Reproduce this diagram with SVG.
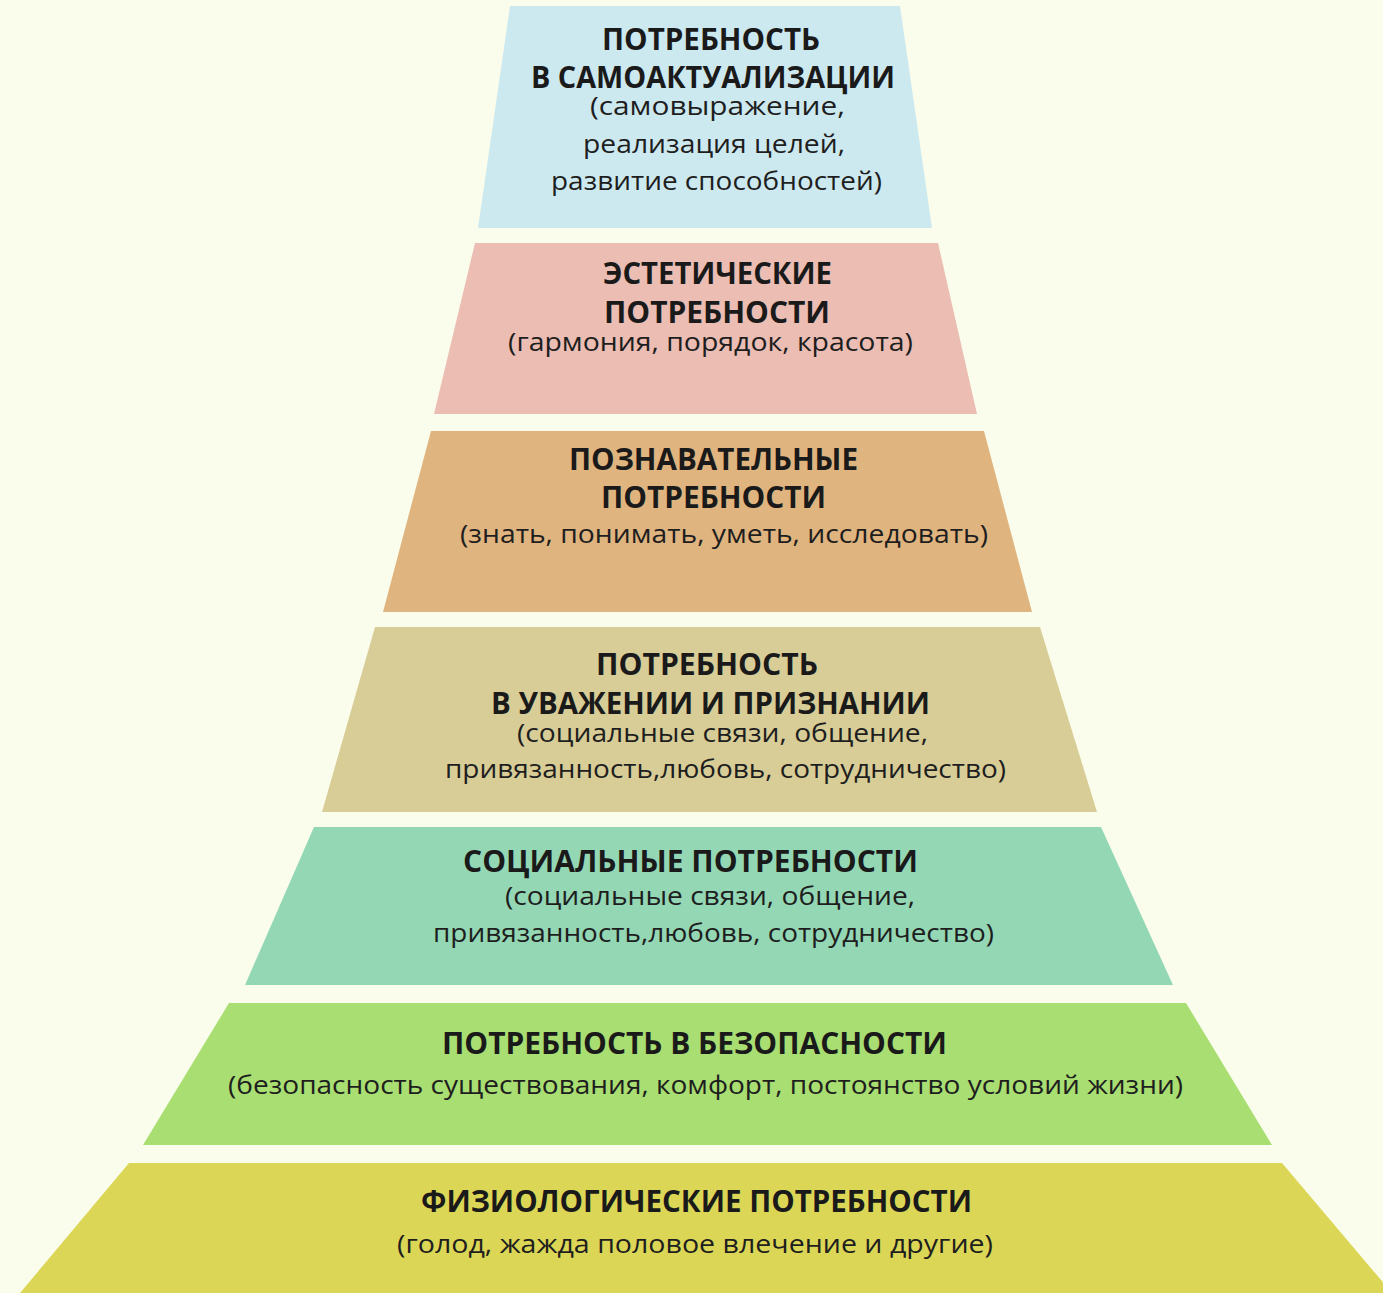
<svg xmlns="http://www.w3.org/2000/svg" width="1383" height="1293" viewBox="0 0 1383 1293">
<style>
.h{font-family:"Open Sans","Noto Sans","DejaVu Sans",sans-serif;font-weight:700;font-size:30px;fill:#1a1a1a}
.t{font-family:"Open Sans","Noto Sans","DejaVu Sans",sans-serif;font-weight:400;font-size:26px;fill:#1e1e1e}
</style>
<rect width="1383" height="1293" fill="#fafdec"/>
<g id="tier1">
<polygon points="510,6 900,6 932,228 478,228" fill="#cde9f0"/>
<text class="h" x="602" y="50" textLength="218" lengthAdjust="spacingAndGlyphs">ПОТРЕБНОСТЬ</text>
<text class="h" x="531" y="88" textLength="364" lengthAdjust="spacingAndGlyphs">В САМОАКТУАЛИЗАЦИИ</text>
<text class="t" x="590" y="115" textLength="255" lengthAdjust="spacingAndGlyphs">(самовыражение,</text>
<text class="t" x="583" y="153" textLength="262" lengthAdjust="spacingAndGlyphs">реализация целей,</text>
<text class="t" x="551" y="190" textLength="331" lengthAdjust="spacingAndGlyphs">развитие способностей)</text>
</g>
<g id="tier2">
<polygon points="475,243 938,243 977,414 434,414" fill="#ebbdb3"/>
<text class="h" x="603" y="284" textLength="229" lengthAdjust="spacingAndGlyphs">ЭСТЕТИЧЕСКИЕ</text>
<text class="h" x="604" y="323" textLength="226" lengthAdjust="spacingAndGlyphs">ПОТРЕБНОСТИ</text>
<text class="t" x="508" y="351" textLength="405" lengthAdjust="spacingAndGlyphs">(гармония, порядок, красота)</text>
</g>
<g id="tier3">
<polygon points="431,431 984,431 1032,612 383,612" fill="#e0b47f"/>
<text class="h" x="569" y="470" textLength="289" lengthAdjust="spacingAndGlyphs">ПОЗНАВАТЕЛЬНЫЕ</text>
<text class="h" x="601" y="508" textLength="225" lengthAdjust="spacingAndGlyphs">ПОТРЕБНОСТИ</text>
<text class="t" x="460" y="543" textLength="528" lengthAdjust="spacingAndGlyphs">(знать, понимать, уметь, исследовать)</text>
</g>
<g id="tier4">
<polygon points="375,627 1040,627 1097,812 322,812" fill="#d8cd97"/>
<text class="h" x="596" y="675" textLength="222" lengthAdjust="spacingAndGlyphs">ПОТРЕБНОСТЬ</text>
<text class="h" x="491" y="714" textLength="439" lengthAdjust="spacingAndGlyphs">В УВАЖЕНИИ И ПРИЗНАНИИ</text>
<text class="t" x="517" y="742" textLength="411" lengthAdjust="spacingAndGlyphs">(социальные связи, общение,</text>
<text class="t" x="445" y="778" textLength="561" lengthAdjust="spacingAndGlyphs">привязанность,любовь, сотрудничество)</text>
</g>
<g id="tier5">
<polygon points="314,827 1101,827 1173,985 245,985" fill="#94d7b5"/>
<text class="h" x="463" y="872" textLength="455" lengthAdjust="spacingAndGlyphs">СОЦИАЛЬНЫЕ ПОТРЕБНОСТИ</text>
<text class="t" x="505" y="905" textLength="410" lengthAdjust="spacingAndGlyphs">(социальные связи, общение,</text>
<text class="t" x="433" y="942" textLength="561" lengthAdjust="spacingAndGlyphs">привязанность,любовь, сотрудничество)</text>
</g>
<g id="tier6">
<polygon points="229,1003 1186,1003 1272,1145 143,1145" fill="#a9de72"/>
<text class="h" x="442" y="1054" textLength="505" lengthAdjust="spacingAndGlyphs">ПОТРЕБНОСТЬ В БЕЗОПАСНОСТИ</text>
<text class="t" x="228" y="1094" textLength="955" lengthAdjust="spacingAndGlyphs">(безопасность существования, комфорт, постоянство условий жизни)</text>
</g>
<g id="tier7">
<polygon points="129,1163 1282,1163 1392,1293 20,1293" fill="#dcd656"/>
<text class="h" x="421" y="1212" textLength="551" lengthAdjust="spacingAndGlyphs">ФИЗИОЛОГИЧЕСКИЕ ПОТРЕБНОСТИ</text>
<text class="t" x="397" y="1253" textLength="596" lengthAdjust="spacingAndGlyphs">(голод, жажда половое влечение и другие)</text>
</g>
</svg>
